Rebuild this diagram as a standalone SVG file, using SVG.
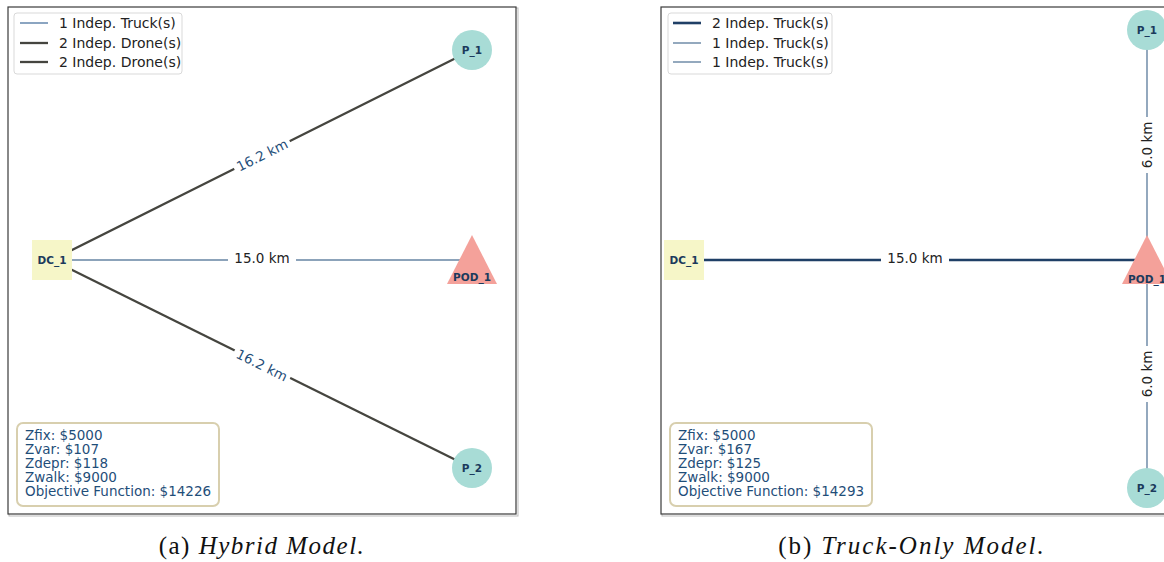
<svg xmlns="http://www.w3.org/2000/svg" width="1164" height="562" viewBox="0 0 1164 562">
<style>
.frame{fill:#fff;stroke:#3a3a3a;stroke-width:1.2}
.shadow{fill:none;stroke:#bbb;stroke-width:1}
.leg{fill:#fff;stroke:#d9d9d9;stroke-width:1}
.legt{font-family:"DejaVu Sans",sans-serif;font-size:14px;fill:#222}
.stat{fill:#fff;stroke:#d8cfae;stroke-width:2}
.statt{font-family:"DejaVu Sans",sans-serif;font-size:13.5px;fill:#1f4e79}
.nl{font-family:"DejaVu Sans",sans-serif;font-size:10.5px;font-weight:bold;fill:#1b3a5c;text-anchor:middle;dominant-baseline:central}
.dc{fill:#f6f6c8}
.pod{fill:#f4a19a}
.p{fill:#a8dcd6}
.drone{stroke:#45453f;stroke-width:2.3;fill:none}
.truck1{stroke:#6684a3;stroke-width:1.4;fill:none}
.truck2{stroke:#1f3f66;stroke-width:2.6;fill:none}
.el{font-family:"DejaVu Sans",sans-serif;font-size:13.5px;text-anchor:middle;dominant-baseline:central}
.cap{font-family:"Liberation Serif",serif;font-size:25px;fill:#111;text-anchor:middle}
</style>

<!-- Panel (a) -->
<g id="panel-a">
  <rect class="shadow" x="9" y="8" width="509" height="508"/>
  <rect class="frame" x="8" y="7" width="508" height="507"/>
</g>

<g id="connectors-a">
  <line class="drone" x1="52" y1="260" x2="472" y2="50"/>
  <line class="drone" x1="52" y1="260" x2="472" y2="468"/>
  <line class="truck1" x1="52" y1="260" x2="472" y2="260"/>
  <g transform="translate(262,155) rotate(-26.6)">
    <rect x="-31" y="-9" width="62" height="18" fill="#fff"/>
    <text class="el" x="0" y="0" fill="#1f4e79">16.2 km</text>
  </g>
  <g transform="translate(262,365) rotate(26.4)">
    <rect x="-31" y="-9" width="62" height="18" fill="#fff"/>
    <text class="el" x="0" y="0" fill="#1f4e79">16.2 km</text>
  </g>
  <rect x="228" y="250" width="68" height="18" fill="#fff"/>
  <text class="el" x="262" y="258" fill="#222">15.0 km</text>
</g>

<g id="a-DC_1">
  <rect class="dc" x="32" y="240" width="40" height="40"/>
  <text class="nl" x="52" y="260">DC_1</text>
</g>
<g id="a-POD_1">
  <polygon class="pod" points="472,235 497,284 447,284"/>
  <text class="nl" x="472" y="277">POD_1</text>
</g>
<g id="a-P_1">
  <circle class="p" cx="472" cy="50" r="20"/>
  <text class="nl" x="472" y="50">P_1</text>
</g>
<g id="a-P_2">
  <circle class="p" cx="472" cy="468" r="20"/>
  <text class="nl" x="472" y="468">P_2</text>
</g>

<g id="a-legend">
  <rect class="leg" x="14" y="13" width="168" height="61" rx="3"/>
  <line x1="20" y1="23" x2="48" y2="23" stroke="#5a7ea6" stroke-width="1.4"/>
  <line x1="20" y1="43" x2="48" y2="43" stroke="#45453f" stroke-width="2.3"/>
  <line x1="20" y1="62" x2="48" y2="62" stroke="#45453f" stroke-width="2.3"/>
  <text class="legt" x="59" y="28">1 Indep. Truck(s)</text>
  <text class="legt" x="59" y="48">2 Indep. Drone(s)</text>
  <text class="legt" x="59" y="67">2 Indep. Drone(s)</text>
</g>

<g id="a-stats">
  <rect class="stat" x="17" y="423" width="202" height="83" rx="6"/>
  <text class="statt" x="25" y="440">Zfix: $5000</text>
  <text class="statt" x="25" y="454">Zvar: $107</text>
  <text class="statt" x="25" y="468">Zdepr: $118</text>
  <text class="statt" x="25" y="482">Zwalk: $9000</text>
  <text class="statt" x="25" y="496">Objective Function: $14226</text>
</g>

<text class="cap" x="262" y="554" letter-spacing="1.5">(a) <tspan font-style="italic">Hybrid Model.</tspan></text>

<!-- Panel (b) -->
<g id="panel-b">
  <rect class="shadow" x="662" y="8" width="520" height="508"/>
  <rect class="frame" x="661" y="7" width="520" height="507"/>
</g>

<g id="connectors-b">
  <line class="truck2" x1="684" y1="260" x2="1147" y2="260"/>
  <line class="truck1" x1="1147" y1="30" x2="1147" y2="260"/>
  <line class="truck1" x1="1147" y1="260" x2="1147" y2="488"/>
  <rect x="881" y="250" width="68" height="18" fill="#fff"/>
  <text class="el" x="915" y="258" fill="#222">15.0 km</text>
  <g transform="translate(1147,145) rotate(-90)">
    <rect x="-28" y="-9" width="56" height="18" fill="#fff"/>
    <text class="el" x="0" y="0" fill="#222">6.0 km</text>
  </g>
  <g transform="translate(1147,374) rotate(-90)">
    <rect x="-28" y="-9" width="56" height="18" fill="#fff"/>
    <text class="el" x="0" y="0" fill="#222">6.0 km</text>
  </g>
</g>

<g id="b-DC_1">
  <rect class="dc" x="664" y="240" width="40" height="40"/>
  <text class="nl" x="684" y="260">DC_1</text>
</g>
<g id="b-POD_1">
  <polygon class="pod" points="1147,235 1172,284 1122,284"/>
  <text class="nl" x="1147" y="279">POD_1</text>
</g>
<g id="b-P_1">
  <circle class="p" cx="1147" cy="30" r="20"/>
  <text class="nl" x="1147" y="30">P_1</text>
</g>
<g id="b-P_2">
  <circle class="p" cx="1147" cy="488" r="20"/>
  <text class="nl" x="1147" y="488">P_2</text>
</g>

<g id="b-legend">
  <rect class="leg" x="668" y="13" width="164" height="61" rx="3"/>
  <line x1="673" y1="23" x2="701" y2="23" stroke="#1f3f66" stroke-width="2.6"/>
  <line x1="673" y1="43" x2="701" y2="43" stroke="#6684a3" stroke-width="1.4"/>
  <line x1="673" y1="62" x2="701" y2="62" stroke="#6684a3" stroke-width="1.4"/>
  <text class="legt" x="712" y="28">2 Indep. Truck(s)</text>
  <text class="legt" x="712" y="48">1 Indep. Truck(s)</text>
  <text class="legt" x="712" y="67">1 Indep. Truck(s)</text>
</g>

<g id="b-stats">
  <rect class="stat" x="670" y="423" width="202" height="83" rx="6"/>
  <text class="statt" x="678" y="440">Zfix: $5000</text>
  <text class="statt" x="678" y="454">Zvar: $167</text>
  <text class="statt" x="678" y="468">Zdepr: $125</text>
  <text class="statt" x="678" y="482">Zwalk: $9000</text>
  <text class="statt" x="678" y="496">Objective Function: $14293</text>
</g>

<text class="cap" x="912" y="554" letter-spacing="2">(b) <tspan font-style="italic">Truck-Only Model.</tspan></text>
</svg>
